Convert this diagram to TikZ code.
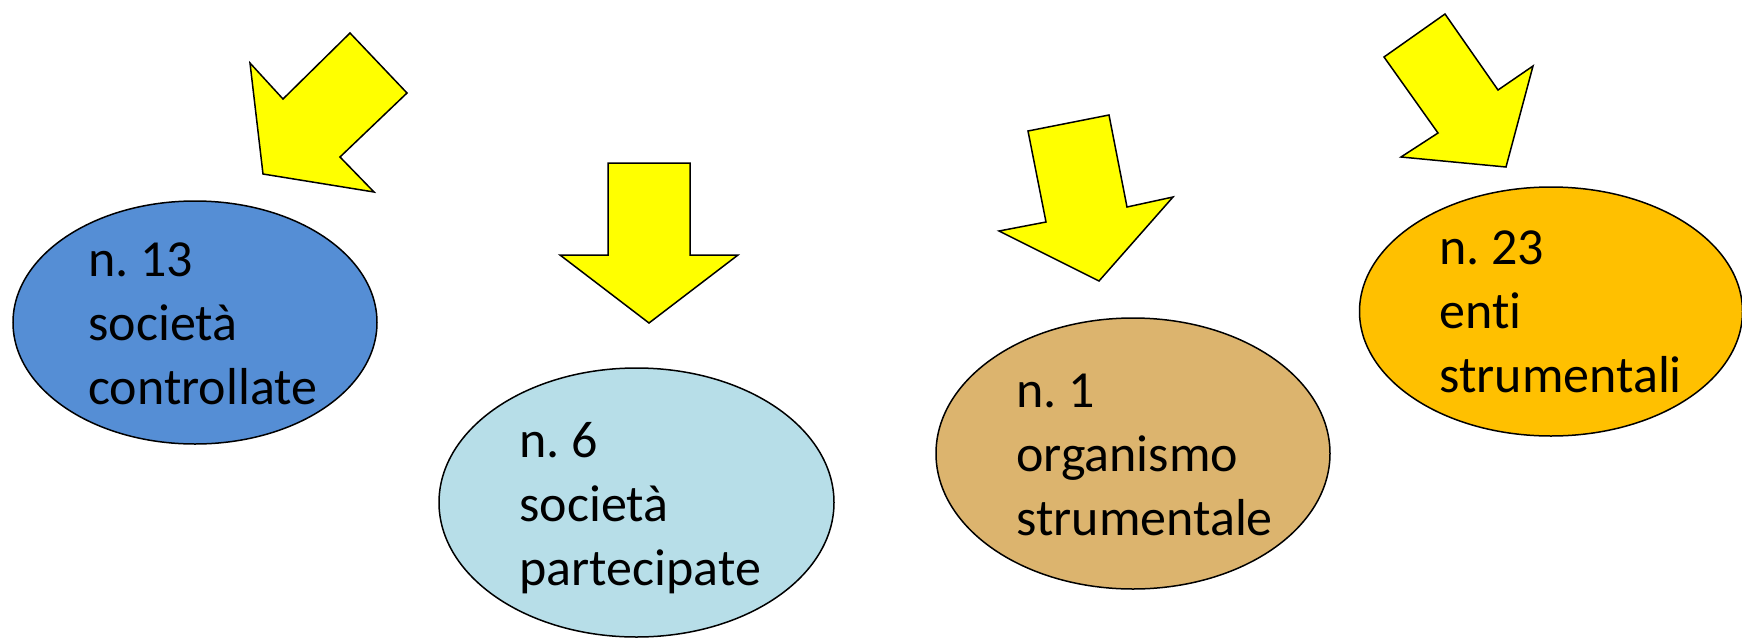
\documentclass[tikz,border=0pt]{standalone}
\usepackage{fontspec}
\setmainfont[Ligatures=NoCommon]{Carlito}
\frenchspacing
\usetikzlibrary{shapes.geometric}
\definecolor{cblue}{HTML}{558ED5}
\definecolor{clight}{HTML}{B7DEE8}
\definecolor{ctan}{RGB}{220,180,110}
\definecolor{corange}{HTML}{FFC000}
\definecolor{cyel}{HTML}{FFFF00}
\tikzset{
  blob/.style={ellipse, draw=black, line width=0.75pt, inner sep=0pt},
  bigarrow/.style={draw=black, fill=cyel, line width=0.75pt, line join=miter},
  lbl/.style={anchor=base west, inner sep=0pt, align=left, font=\fontsize{26pt}{32pt}\selectfont}
}
\begin{document}
\begin{tikzpicture}[x=0.5pt,y=-0.5pt]
\useasboundingbox (0,0) rectangle (1742,638);
% ellipses
\node[blob, fill=cblue, minimum width=182pt, minimum height=121.5pt] (e1) at (195,322.5) {};
\node[blob, fill=clight, minimum width=197.5pt, minimum height=134.5pt] (e2) at (636.5,502.5) {};
\node[blob, fill=ctan, minimum width=197pt, minimum height=135.5pt] (e3) at (1133,453.5) {};
\node[blob, fill=corange, minimum width=191.5pt, minimum height=124.5pt] (e4) at (1551,311.5) {};
% labels (anchored at the baseline of the last line)
\node[lbl] (t1) at (88,404) {n. 13\\società\\controllate};
\node[lbl] (t2) at (519,585) {n. 6\\società\\partecipate};
\node[lbl] (t3) at (1016,535) {n. 1\\organismo\\strumentale};
\node[lbl] (t4) at (1439,392) {n. 23\\enti\\strumentali};
% arrows
\draw[bigarrow] (350,33) -- (407,93) -- (340,157) -- (374,192) -- (263,174) -- (250,63) -- (283,99) -- cycle;
\draw[bigarrow] (608,163) -- (690,163) -- (690,255) -- (738,255) -- (649,323) -- (560,255) -- (608,255) -- cycle;
\draw[bigarrow] (1028,131) -- (1109,115) -- (1127,207) -- (1173,197) -- (1099,281) -- (999,231) -- (1046,222) -- cycle;
\draw[bigarrow] (1384,57) -- (1445,14) -- (1498,90) -- (1533,66) -- (1506,167) -- (1401,157) -- (1438,133) -- cycle;
\end{tikzpicture}
\end{document}
